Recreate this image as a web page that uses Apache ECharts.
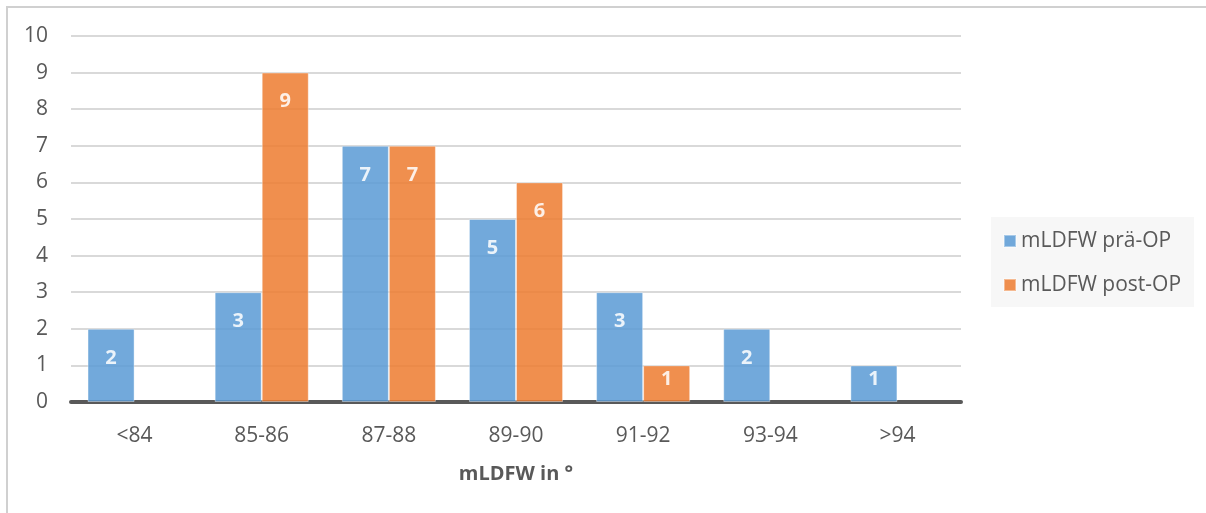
<!DOCTYPE html>
<html>
<head>
<meta charset="utf-8">
<script src="https://cdn.jsdelivr.net/npm/echarts@6/dist/echarts.min.js"></script>
<style>
  html, body { margin: 0; padding: 0; background: #fff; }
  #chart { width: 1206px; height: 513px; }
</style>
</head>
<body>
<div id="chart"></div>
<script>
// chart data
const categories = ['<84', '85-86', '87-88', '89-90', '91-92', '93-94', '>94']
const seriesNames = ['mLDFW prä-OP', 'mLDFW post-OP']
const praeOp = [2, 3, 7, 5, 3, 2, 1]
const postOp = [0, 9, 7, 6, 1, 0, 0]
const yTicks = { min: 0, max: 10, interval: 1 }

const colors = ['#5B9BD5', '#ED7D31']
const font = '"Open Sans", "Noto Sans", sans-serif'

// short bars get their label centred, empty bars get no border
const toData = (arr) => arr.map(v => {
  if (v === 0) return { value: v, itemStyle: { borderWidth: 0 } }
  if (v <= 1) return { value: v, label: { position: 'inside', offset: [0, -4] } }
  return v
})

const chart = echarts.init(document.getElementById('chart'))

const series = [praeOp, postOp].map((values, index) => {
  return {
    name: seriesNames[index],
    type: 'bar',
    data: toData(values),
    barGap: '0%',
    barCategoryGap: '26%',
    itemStyle: {
      color: colors[index],
      opacity: 0.86,
      borderColor: 'rgba(255,255,255,0.45)',
      borderWidth: 1
    },
    label: {
      show: true,
      position: 'insideTop',
      distance: 19,
      color: '#fff',
      fontFamily: font,
      fontWeight: 'bold',
      fontSize: 20,
      formatter: (p) => p.value === 0 ? '' : p.value
    }
  }
})

chart.setOption({
  animation: false,
  textStyle: { fontFamily: font },
  graphic: [
    {
      type: 'rect',
      shape: { x: 7, y: 7, width: 1220, height: 540 },
      style: { fill: 'none', stroke: '#D0D0D0', lineWidth: 2 },
      silent: true
    },
    {
      type: 'rect',
      shape: { x: 991, y: 217, width: 203, height: 90 },
      style: { fill: '#F7F7F7' },
      silent: true,
      z: -1
    }
  ],
  grid: {
    left: 71,
    right: 245,
    top: 36,
    bottom: 111,
    containLabel: false
  },
  legend: {
    data: seriesNames,
    orient: 'vertical',
    left: 1003,
    top: 229,
    padding: 0,
    icon: 'rect',
    itemWidth: 12,
    itemHeight: 12,
    itemGap: 20,
    textStyle: {
      color: '#595959',
      fontSize: 21,
      lineHeight: 24,
      fontFamily: font
    }
  },
  xAxis: {
    type: 'category',
    data: categories,
    name: 'mLDFW in °',
    nameLocation: 'middle',
    nameGap: 62,
    nameTextStyle: {
      color: '#595959',
      fontSize: 20,
      fontWeight: 'bold',
      fontFamily: font
    },
    axisTick: { show: false },
    axisLine: {
      show: true,
      lineStyle: { color: '#595959', width: 4 }
    },
    axisLabel: {
      color: '#595959',
      fontSize: 21,
      margin: 24,
      fontFamily: font
    }
  },
  yAxis: {
    type: 'value',
    min: yTicks.min,
    max: yTicks.max,
    interval: yTicks.interval,
    axisLine: { show: false },
    axisTick: { show: false },
    axisLabel: {
      color: '#595959',
      fontSize: 21,
      margin: 23,
      fontFamily: font
    },
    splitLine: {
      lineStyle: { color: '#D9D9D9', width: 2 }
    }
  },
  series: series
})
</script>
</body>
</html>
